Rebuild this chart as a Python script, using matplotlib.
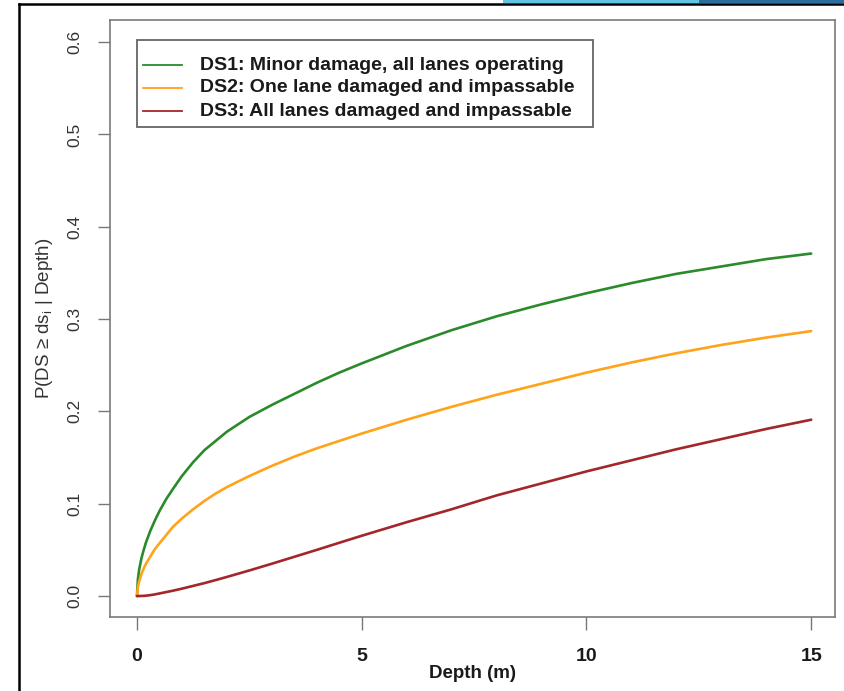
import matplotlib
matplotlib.use("Agg")
import matplotlib.pyplot as plt
from matplotlib.lines import Line2D
from matplotlib.patches import Rectangle

plt.rcParams['font.family'] = ['Liberation Sans', 'DejaVu Sans']
plt.rcParams['mathtext.fontset'] = 'custom'
plt.rcParams['mathtext.rm'] = 'Liberation Sans'
plt.rcParams['mathtext.it'] = 'Liberation Sans:italic'

# ---- data ----
depth = [0, 0.02, 0.05, 0.1, 0.15, 0.2, 0.3, 0.4, 0.5, 0.65, 0.8, 1,
         1.25, 1.5, 1.75, 2, 2.5, 3, 3.5, 4, 4.5, 5,
         6, 7, 8, 9, 10, 11, 12, 13, 14, 15]
ds1 = [0, 0.018, 0.029, 0.041, 0.050, 0.058, 0.071, 0.082, 0.092, 0.105,
       0.116, 0.130, 0.145, 0.158, 0.168, 0.178, 0.194, 0.207, 0.219,
       0.231, 0.242, 0.252, 0.271, 0.288, 0.303, 0.316, 0.328, 0.339,
       0.349, 0.357, 0.365, 0.371]
ds2 = [0, 0.010, 0.016, 0.024, 0.030, 0.035, 0.043, 0.051, 0.057, 0.066,
       0.075, 0.084, 0.094, 0.103, 0.111, 0.118, 0.130, 0.141, 0.151,
       0.160, 0.168, 0.176, 0.191, 0.205, 0.218, 0.230, 0.242, 0.253,
       0.263, 0.272, 0.280, 0.287]
ds3 = [0, 0.0, 0.0, 0.0001, 0.0002, 0.0004, 0.0010, 0.0018, 0.0028,
       0.0043, 0.0058, 0.0080, 0.0110, 0.0140, 0.0173, 0.0207, 0.0277,
       0.0350, 0.0425, 0.0500, 0.0577, 0.0653, 0.080, 0.094, 0.109,
       0.122, 0.135, 0.147, 0.159, 0.170, 0.181, 0.191]
labels = ["DS1: Minor damage, all lanes operating",
          "DS2: One lane damaged and impassable",
          "DS3: All lanes damaged and impassable"]
colors = ["#2b8a2b", "#ffa31a", "#a3262b"]
xticks = [0, 5, 10, 15]
yticks = [0.0, 0.1, 0.2, 0.3, 0.4, 0.5, 0.6]

W, H = 844, 691
fig = plt.figure(figsize=(W / 100, H / 100), dpi=100)
ax = fig.add_axes([110 / W, 1 - 617 / H, 725 / W, 597 / H])

for y, lab, c in zip([ds1, ds2, ds3], labels, colors):
    ax.plot(depth, y, color=c, lw=1.9, label=lab, solid_capstyle='round',
            solid_joinstyle='round')

ax.set_xlim(-0.6, 15.53)
ax.set_ylim(-0.0227, 0.624)
ax.set_xticks(xticks)
ax.set_xticklabels([str(t) for t in xticks], fontsize=14, fontweight='bold',
                   color='#1a1a1a')
ax.set_yticks(yticks)
ax.set_yticklabels([f"{t:.1f}" for t in yticks], fontsize=12.5, rotation=90,
                   va='center', color='#333333')
ax.tick_params(axis='both', direction='out', length=9, width=1.0,
               color='#777777')
ax.tick_params(axis='x', pad=13)
ax.tick_params(axis='y', pad=11)
for s in ax.spines.values():
    s.set_color('#7a7a7a')
    s.set_linewidth(1.2)

ax.set_xlabel("Depth (m)", fontsize=13.5, fontweight='bold', color='#1a1a1a')
ax.xaxis.set_label_coords(0.5, -0.081)
ax.set_ylabel(r"P(DS ≥ ds$_\mathrm{i}$ | Depth)", fontsize=13.5,
              color='#333333')
ax.yaxis.set_label_coords(-0.076, 0.5)

# legend (drawn by hand in pixel-derived figure coordinates)
def fx(px):
    return px / W

def fy(py):
    return 1 - py / H

fig.add_artist(Rectangle((fx(137), fy(127)), (593 - 137) / W, 87 / H,
                         fill=False, edgecolor='#666666', lw=1.3,
                         transform=fig.transFigure))
for i, (lab, c) in enumerate(zip(labels, colors)):
    yy = 65 + 23 * i
    fig.add_artist(Line2D([fx(143), fx(182)], [fy(yy), fy(yy)], color=c,
                          lw=1.3, transform=fig.transFigure))
    fig.text(fx(200), fy(yy), lab, fontsize=14, fontweight='bold',
             color='#1a1a1a', va='center', ha='left')

# screenshot frame decorations
fig.add_artist(Line2D([19 / W, 19 / W], [0, 1 - 4 / H], color='black',
                      lw=1.8, transform=fig.transFigure))
fig.add_artist(Line2D([19 / W, 1], [1 - 4 / H, 1 - 4 / H], color='black',
                      lw=1.8, transform=fig.transFigure))
fig.add_artist(Rectangle((503 / W, 1 - 3 / H), 196 / W, 3 / H,
                         color='#62c3e3', transform=fig.transFigure, lw=0))
fig.add_artist(Rectangle((699 / W, 1 - 3 / H), 145 / W, 3 / H,
                         color='#2a6e9e', transform=fig.transFigure, lw=0))

fig.savefig("out.png", dpi=100)
